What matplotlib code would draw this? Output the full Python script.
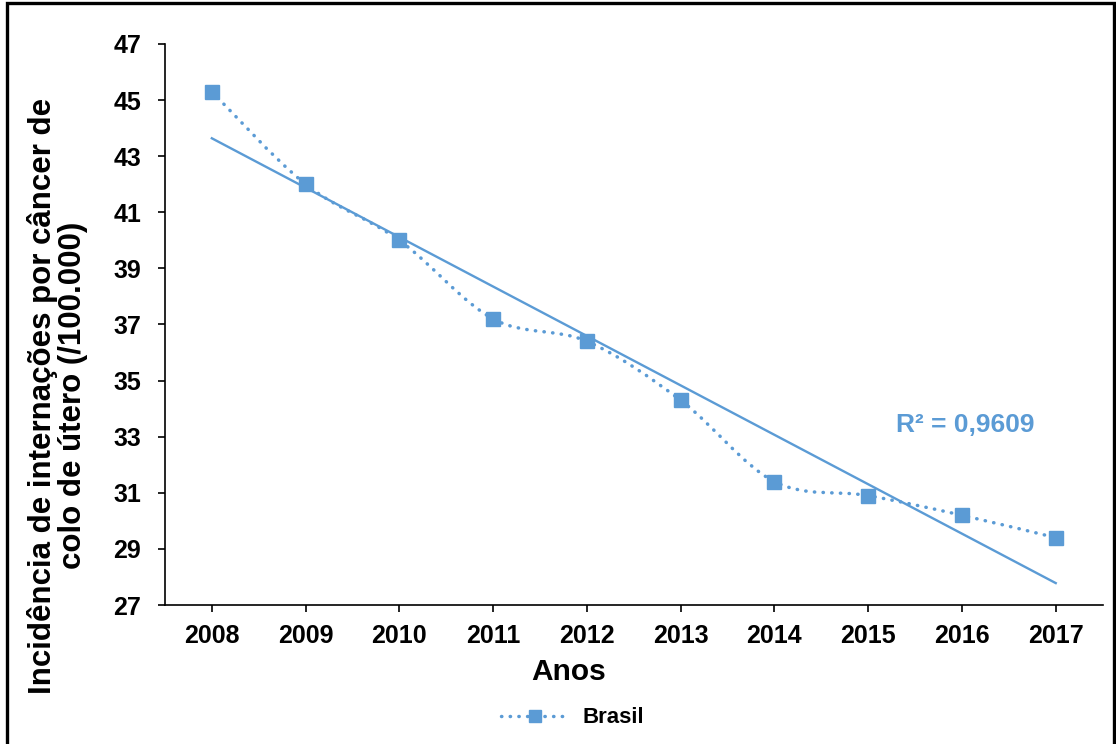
import numpy as np
import matplotlib.pyplot as plt
from matplotlib.path import Path
from matplotlib.patches import PathPatch, Rectangle
from matplotlib.lines import Line2D

plt.rcParams['font.family'] = ['Liberation Sans', 'DejaVu Sans']

anos = ['2008', '2009', '2010', '2011', '2012', '2013', '2014', '2015', '2016', '2017']
brasil = [45.3, 42.0, 40.0, 37.2, 36.4, 34.3, 31.4, 30.9, 30.2, 29.4]
r2_text = 'R² = 0,9609'

azul = '#5B9BD5'

fig = plt.figure(figsize=(11.16, 7.44), dpi=100)
ax = fig.add_axes([0.1478, 0.1868, 0.8402, 0.7541])

x = np.arange(len(anos))
y = np.array(brasil)

# linha suavizada (bezier tipo Excel)
pts = np.column_stack([x, y])
ext = np.vstack([pts[0], pts, pts[-1]])
verts = [tuple(pts[0])]
codes = [Path.MOVETO]
for i in range(len(pts) - 1):
    p0, p1, p2, p3 = ext[i], ext[i + 1], ext[i + 2], ext[i + 3]
    c1 = p1 + (p2 - p0) / 6
    c2 = p2 - (p3 - p1) / 6
    verts += [tuple(c1), tuple(c2), tuple(p2)]
    codes += [Path.CURVE4] * 3
curva = PathPatch(Path(verts, codes), facecolor='none', edgecolor=azul,
                  linewidth=2.5, linestyle=(0, (0.1, 2.4)), capstyle='round')
ax.add_patch(curva)

# tendência linear
a, b = np.polyfit(x, y, 1)
ax.plot(x, a * x + b, color=azul, linewidth=1.7, zorder=2)

ax.plot(x, y, linestyle='none', marker='s', markersize=10, color=azul, zorder=3)

ax.text(7.3, 33.4, r2_text, color=azul, fontsize=19, fontweight='bold',
        ha='left', va='center')

ax.set_xlim(-0.5, 9.5)
ax.set_ylim(27, 47)
ax.set_xticks(x)
ax.set_xticklabels(anos)
ax.set_yticks(np.arange(27, 48, 2))
for s in ['top', 'right']:
    ax.spines[s].set_visible(False)
for s in ['left', 'bottom']:
    ax.spines[s].set_linewidth(1.2)
ax.tick_params(axis='both', direction='out', length=5, width=1.2, labelsize=18)
ax.tick_params(axis='x', pad=9)
ax.tick_params(axis='y', pad=12)
for lab in ax.get_xticklabels() + ax.get_yticklabels():
    lab.set_fontweight('bold')

ax.set_xlabel('Anos', fontsize=21.5, fontweight='bold')
ax.xaxis.set_label_coords(0.4307, -0.095)
ax.set_ylabel('Incidência de internações por câncer de\ncolo de útero (/100.000)',
              fontsize=22.5, fontweight='bold', linespacing=1.02)
ax.yaxis.set_label_coords(-0.082, 0.373)

handle = Line2D([], [], color=azul, linewidth=2.5, linestyle=(0, (0.1, 2.4)),
                dash_capstyle='round', marker='s', markersize=9)
fig.legend([handle], ['Brasil'], loc='center', bbox_to_anchor=(0.513, 0.035),
           frameon=False, prop={'weight': 'bold', 'size': 16}, handlelength=3.1,
           handletextpad=0.6)

fig.patches.append(Rectangle((0.006, -0.01), 0.992, 1.006, transform=fig.transFigure,
                             fill=False, edgecolor='black', linewidth=2.4))

fig.savefig('out.png', dpi=100)
